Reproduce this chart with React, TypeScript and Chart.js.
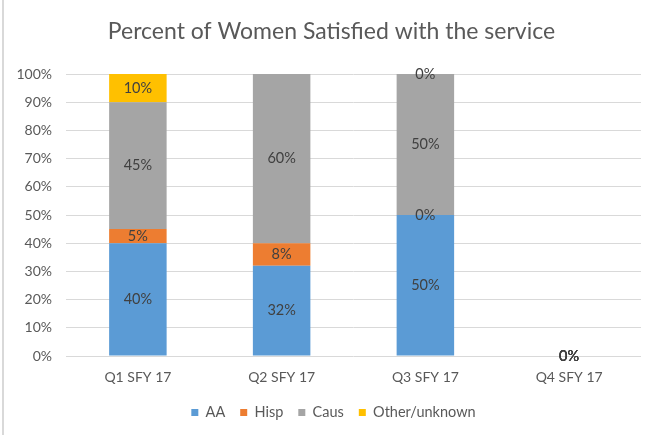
import React, { useEffect, useRef } from "react";
import { Chart, registerables } from "chart.js";

Chart.register(...registerables);

const categories = ["Q1 SFY 17", "Q2 SFY 17", "Q3 SFY 17", "Q4 SFY 17"];
const seriesNames = ["AA", "Hisp", "Caus", "Other/unknown"];
const aaValues = [40, 32, 50, 0];
const hispValues = [5, 8, 0, 0];
const causValues = [45, 60, 50, 0];
const otherValues: (number | null)[] = [10, null, 0, 0];
const seriesColors = ["#5B9BD5", "#ED7D31", "#A5A5A5", "#FFC000"];
const yTicks = [0, 10, 20, 30, 40, 50, 60, 70, 80, 90, 100];
const titleText = "Percent of Women Satisfied with the service";

const FONT = "Lato, 'Open Sans', sans-serif";

const dataLabelPlugin = {
  id: "segLabels",
  afterDatasetsDraw(chart: any) {
    const ctx = chart.ctx;
    ctx.save();
    ctx.font = `14.5px ${FONT}`;
    ctx.fillStyle = "#404040";
    ctx.textAlign = "center";
    ctx.textBaseline = "middle";
    chart.data.datasets.forEach((ds: any, di: number) => {
      const meta = chart.getDatasetMeta(di);
      meta.data.forEach((el: any, i: number) => {
        const v = ds.data[i];
        if (v === null || v === undefined) return;
        const y = (el.y + el.base) / 2;
        ctx.fillText(`${v}%`, el.x, y);
      });
    });
    ctx.restore();
  },
};

// centre title and legend over the whole chart frame rather than the padded box
const centerBlocksPlugin = {
  id: "centerBlocks",
  afterLayout(chart: any) {
    if (chart.titleBlock) chart.titleBlock.left = 22;
    if (chart.legend) chart.legend.left = 26;
  },
};

export default function App() {
  const ref = useRef<HTMLCanvasElement | null>(null);
  useEffect(() => {
    if (!ref.current) return;
    const allData = [aaValues, hispValues, causValues, otherValues];
    const chart = new Chart(ref.current, {
      type: "bar",
      data: {
        labels: categories,
        datasets: seriesNames.map((name, i) => ({
          label: name,
          data: allData[i] as any,
          backgroundColor: seriesColors[i],
          borderWidth: 0,
          categoryPercentage: 1,
          barPercentage: 0.4,
        })),
      },
      options: {
        responsive: false,
        animation: false,
        layout: { padding: { left: 6, right: 13, top: 0, bottom: 5.25 } },
        plugins: {
          tooltip: { enabled: false },
          title: {
            display: true,
            text: titleText,
            color: "#595959",
            font: { family: FONT, size: 23, weight: "normal" as any },
            padding: { top: 18.2, bottom: 28.2 },
          },
          legend: {
            position: "bottom",
            labels: {
              boxWidth: 7,
              boxHeight: 7,
              padding: 15,
              color: "#595959",
              font: { family: FONT, size: 14.5 },
            },
          },
        },
        scales: {
          x: {
            stacked: true,
            grid: { display: false, drawTicks: false },
            border: { display: false },
            ticks: {
              color: "#595959",
              font: { family: FONT, size: 14 },
              padding: 13,
            },
            afterFit: (s: any) => {
              s.height = 34.25;
            },
          },
          y: {
            stacked: true,
            min: 0,
            max: 100,
            grid: { color: "#D9D9D9", drawTicks: false },
            border: { display: false },
            afterBuildTicks: (s: any) => {
              s.ticks = yTicks.map((v) => ({ value: v }));
            },
            ticks: {
              color: "#595959",
              font: { family: FONT, size: 14 },
              padding: 14,
              callback: (v: any) => `${v}%`,
            },
            afterFit: (s: any) => {
              s.width = 60;
            },
          },
        },
      },
      plugins: [dataLabelPlugin, centerBlocksPlugin],
    });
    return () => chart.destroy();
  }, []);

  return (
    <div
      style={{
        position: "absolute",
        left: 0,
        top: 0,
        width: 654,
        height: 435,
        background: "#fff",
      }}
    >
      <div
        style={{
          position: "absolute",
          left: 2,
          top: 0,
          width: 2,
          height: 435,
          background: "#D9D9D9",
        }}
      />
      <canvas
        ref={ref}
        width={654}
        height={435}
        style={{ position: "absolute", left: 0, top: 0, width: 654, height: 435 }}
      />
    </div>
  );
}
